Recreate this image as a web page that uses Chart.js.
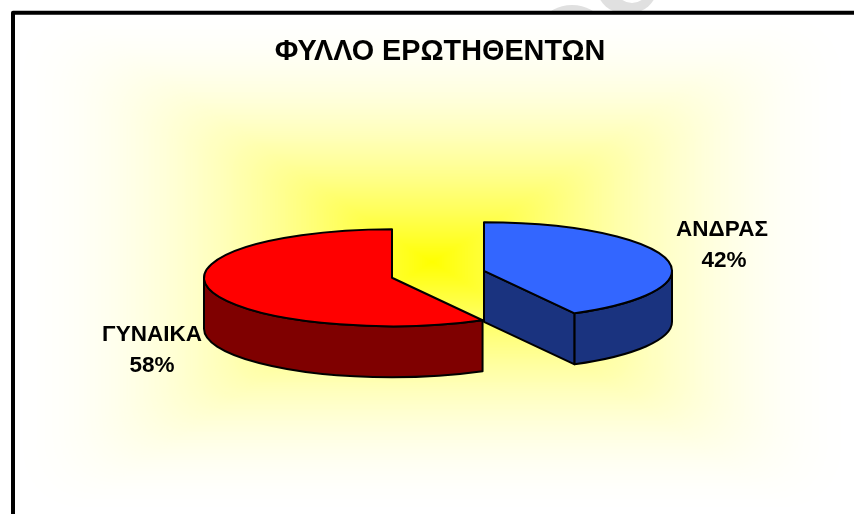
<!DOCTYPE html>
<html><head><meta charset="utf-8">
<style>html,body{margin:0;padding:0;background:#fff}canvas{display:block}</style>
<script src="https://cdn.jsdelivr.net/npm/chart.js@4"></script>
</head><body><canvas id="c" width="854" height="514"></canvas>
<script>
const categories = ['ΑΝΔΡΑΣ', 'ΓΥΝΑΙΚΑ'];
const percentages = [42, 58];
const topColors = ['#3366FF', '#FF0000'];
const sideColors = ['#1A337F', '#7F0000'];
const titleText = 'ΦΥΛΛΟ ΕΡΩΤΗΘΕΝΤΩΝ';

const SQUASH = 0.258, DEPTH = 51, EXPLODE_X = 47.5, EXPLODE_Y = 14, PIE_SHIFT_X = -2;
const labelPos = [{x: 722, y: 230}, {x: 152, y: 335}];
const LABEL_FONT = 'bold 22.5px "Liberation Sans", Arial, sans-serif';

const frame = {
  id: 'frame',
  beforeDraw(chart) {
    const ctx = chart.ctx, W = chart.width, H = chart.height;
    const cx = 432, cy = 262, x0 = 15, y0 = 15;
    ctx.save();
    ctx.fillStyle = '#fff';
    ctx.fillRect(0, 0, W, H);
    // faint watermark fragments above the frame
    ctx.save();
    ctx.beginPath(); ctx.rect(0, 0, W, 11); ctx.clip();
    ctx.fillStyle = '#e0e0e0';
    ctx.beginPath(); ctx.ellipse(572, 20, 26, 15, 0, 0, 2 * Math.PI); ctx.fill();
    ctx.beginPath(); ctx.ellipse(627, -12, 30, 26, 0, 0, 2 * Math.PI); ctx.fill();
    ctx.fillStyle = '#fff';
    ctx.beginPath(); ctx.ellipse(632, -10, 15, 13, 0, 0, 2 * Math.PI); ctx.fill();
    ctx.restore();
    const hw = 425, hh = 255;
    ctx.beginPath(); ctx.rect(x0, y0, W - x0, H - y0); ctx.clip();
    const N = 260;
    for (let i = N; i >= 0; i--) {
      const t = i / N;
      const blue = Math.round(255 * (1 - Math.pow(1 - t, 1.9)));
      ctx.fillStyle = 'rgb(255,255,' + blue + ')';
      ctx.beginPath();
      ctx.roundRect(cx - hw * t, cy - hh * t, 2 * hw * t, 2 * hh * t, 60 * t);
      ctx.fill();
    }
    ctx.restore();
    ctx.save();
    ctx.strokeStyle = '#000'; ctx.lineWidth = 4; ctx.lineJoin = 'round';
    ctx.beginPath(); ctx.moveTo(13, H + 5); ctx.lineTo(13, 12.7); ctx.lineTo(W + 5, 12.7); ctx.stroke();
    ctx.restore();
  }
};

const pie3d = {
  id: 'pie3d',
  beforeDatasetsDraw(chart) {
    const ctx = chart.ctx;
    chart.getDatasetMeta(0).data.forEach((arc, i) => {
      const {x, y, startAngle: a0, endAngle: a1, outerRadius: r} = arc.getProps(['x', 'y', 'startAngle', 'endAngle', 'outerRadius']);
      const mid = (a0 + a1) / 2;
      const cx = x + PIE_SHIFT_X + Math.cos(mid) * EXPLODE_X, cy = y + Math.sin(mid) * EXPLODE_Y;
      const ry = r * SQUASH;
      ctx.save();
      ctx.lineWidth = 2; ctx.strokeStyle = '#000'; ctx.lineJoin = 'round';
      ctx.fillStyle = sideColors[i];
      const segs = [];
      for (let k = -1; k <= 1; k++) {
        const lo = Math.max(a0, k * 2 * Math.PI), hi = Math.min(a1, k * 2 * Math.PI + Math.PI);
        if (hi > lo) segs.push([lo, hi]);
      }
      [a0, a1].forEach((a, idx) => {
        const facesFront = idx === 1 ? Math.cos(a) > 0 && Math.sin(a) > 0 : Math.cos(a) < 0 && Math.sin(a) > 0;
        if (!facesFront) return;
        const px = cx + Math.cos(a) * r, py = cy + Math.sin(a) * ry;
        ctx.beginPath();
        ctx.moveTo(cx, cy); ctx.lineTo(px, py); ctx.lineTo(px, py + DEPTH); ctx.lineTo(cx, cy + DEPTH); ctx.closePath();
        ctx.fill(); ctx.stroke();
      });
      segs.forEach(([lo, hi]) => {
        ctx.beginPath();
        ctx.ellipse(cx, cy, r, ry, 0, lo, hi);
        ctx.ellipse(cx, cy + DEPTH, r, ry, 0, hi, lo, true);
        ctx.closePath();
        ctx.fill(); ctx.stroke();
      });
      ctx.save();
      ctx.translate(cx, cy); ctx.scale(1, SQUASH); ctx.translate(-x, -y);
      arc.draw(ctx);
      ctx.restore();
      ctx.save();
      ctx.translate(cx, cy); ctx.scale(1, SQUASH);
      ctx.beginPath(); ctx.moveTo(0, 0); ctx.arc(0, 0, r, a0, a1); ctx.closePath();
      ctx.restore();
      ctx.stroke();
      ctx.restore();
    });
    return false;
  },
  afterDraw(chart) {
    const ctx = chart.ctx;
    ctx.save();
    ctx.fillStyle = '#000';
    ctx.font = LABEL_FONT; ctx.textAlign = 'center'; ctx.textBaseline = 'middle';
    categories.forEach((c, i) => {
      ctx.fillText(c, labelPos[i].x, labelPos[i].y);
      ctx.fillText(percentages[i] + '%', labelPos[i].x + (i === 0 ? 2 : 0), labelPos[i].y + 31);
    });
    ctx.restore();
  }
};

new Chart(document.getElementById('c'), {
  type: 'pie',
  data: {
    labels: categories,
    datasets: [{
      data: percentages,
      backgroundColor: topColors,
      borderWidth: 0
    }]
  },
  options: {
    responsive: false,
    animation: false,
    devicePixelRatio: 1,
    radius: 188,
    layout: {padding: {left: 26, top: 0, right: 0, bottom: 45}},
    plugins: {
      legend: {display: false},
      tooltip: {enabled: false},
      title: {
        display: true,
        text: titleText,
        color: '#000',
        font: {family: '"Liberation Sans", Arial, sans-serif', size: 28.8, weight: 'bold'},
        padding: {top: 35, bottom: 10}
      }
    }
  },
  plugins: [frame, pie3d]
});
</script></body></html>
